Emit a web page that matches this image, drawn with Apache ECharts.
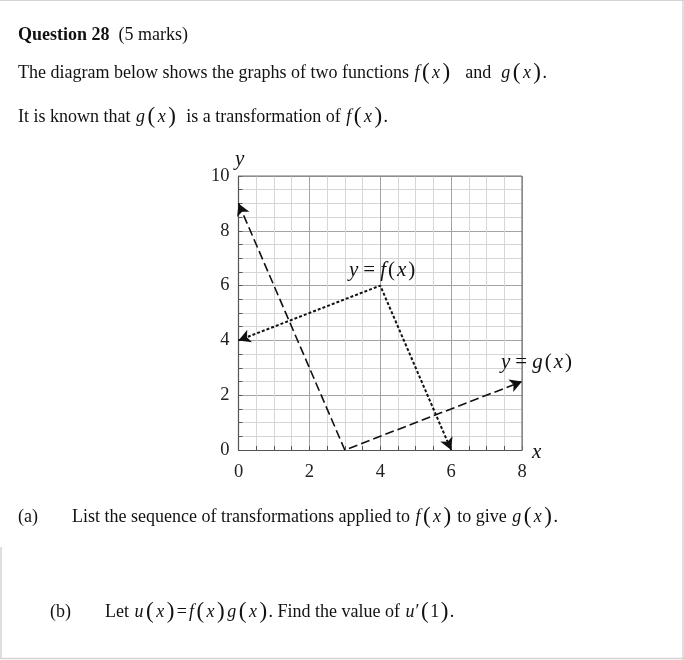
<!DOCTYPE html>
<html>
<head>
<meta charset="utf-8">
<script src="https://cdn.jsdelivr.net/npm/echarts@6/dist/echarts.min.js"></script>
<style>html,body{margin:0;padding:0;background:#fff;}#c{width:684px;height:660px;}</style>
</head>
<body>
<div id="c"></div>
<script>
// ---- data ----
const xTickLabels = [0, 2, 4, 6, 8];
const yTickLabels = [0, 2, 4, 6, 8, 10];
const fX = [0, 4, 6];
const fY = [4, 6, 0];
const gX = [0, 3, 8];
const gY = [9, 0, 2.5];

const FONT = '"Liberation Serif", "Times New Roman", serif';
const chart = echarts.init(document.getElementById('c'), null, {renderer: 'canvas'});

function pts(xs, ys) { return xs.map((x, i) => [x, ys[i]]); }
function arrowSegs(p) {
  const n = p.length;
  const a = p[0], b = p[1], c = p[n - 1], d = p[n - 2];
  const t = 0.02;
  return [
    [{coord: a}, {coord: [a[0] + (b[0] - a[0]) * t, a[1] + (b[1] - a[1]) * t]}],
    [{coord: c}, {coord: [c[0] + (d[0] - c[0]) * t, c[1] + (d[1] - c[1]) * t]}]
  ];
}
const fPts = pts(fX, fY), gPts = pts(gX, gY);

const FS = 18;
const richBase = {
  n: {fontFamily: FONT, fontSize: FS, color: '#111'},
  b: {fontFamily: FONT, fontSize: 18, fontWeight: 'bold', color: '#111'},
  i: {fontFamily: FONT, fontSize: 18, fontStyle: 'italic', color: '#111', padding: [0, 1, 0, 1]},
  t: {fontFamily: FONT, fontSize: 18, color: '#111', padding: [0, 1, 0, 1]},
  p: {fontFamily: FONT, fontSize: 23, color: '#111', padding: [0, 1.5, 0, 1.5]},
  I: {fontFamily: FONT, fontSize: 21, fontStyle: 'italic', color: '#111', padding: [0, 1, 0, 1]},
  E: {fontFamily: FONT, fontSize: 21, color: '#111', padding: [0, 4, 0, 4]},
  P: {fontFamily: FONT, fontSize: 21, color: '#111', padding: [0, 1, 0, 1]}
};
function txt(x, y, s, extra) {
  return Object.assign({type: 'text', x: x, y: y,
    style: {text: s, rich: richBase, fill: '#111', font: FS + 'px ' + FONT, verticalAlign: 'middle', align: 'left'}}, extra || {});
}
const fx = '{i|f}{p|(}{i|x}{p|)}';
const gx = '{i|g}{p|(}{i|x}{p|)}';

const option = {
  animation: false,
  backgroundColor: '#fff',
  grid: {left: 238.5, right: 162, top: 176, bottom: 210, show: false},
  xAxis: [
    {type: 'value', min: 0, max: 8, interval: 0.5,
     axisLine: {show: true, onZero: false, lineStyle: {color: '#555', width: 1.2}},
     axisTick: {show: true, inside: true, length: 4, lineStyle: {color: '#555'}},
     axisLabel: {show: false},
     splitLine: {show: true, lineStyle: {color: '#d6d6d6', width: 1}}},
    {type: 'value', min: 0, max: 8, interval: 2, position: 'bottom',
     axisLine: {show: false}, axisTick: {show: false},
     axisLabel: {show: true, margin: 13, fontFamily: FONT, fontSize: 18.5, color: '#222',
       formatter: v => xTickLabels.includes(v) ? String(v) : ''},
     splitLine: {show: true, lineStyle: {color: '#a3a3a3', width: 1}}}
  ],
  yAxis: [
    {type: 'value', min: 0, max: 10, interval: 0.5,
     axisLine: {show: true, onZero: false, lineStyle: {color: '#555', width: 1.2}},
     axisTick: {show: true, inside: true, length: 4, lineStyle: {color: '#555'}},
     axisLabel: {show: false},
     splitLine: {show: true, lineStyle: {color: '#d6d6d6', width: 1}}},
    {type: 'value', min: 0, max: 10, interval: 2, position: 'left',
     axisLine: {show: false}, axisTick: {show: false},
     axisLabel: {show: true, margin: 9, fontFamily: FONT, fontSize: 18.5, color: '#222',
       formatter: v => yTickLabels.includes(v) ? String(v) : ''},
     splitLine: {show: true, lineStyle: {color: '#a3a3a3', width: 1}}}
  ],
  series: [
    {type: 'line', name: 'f', data: fPts, xAxisIndex: 0, yAxisIndex: 0, showSymbol: false, symbol: 'none',
     lineStyle: {color: '#111', width: 2, type: [3, 2]}, z: 5,
     markLine: {silent: true, symbol: ['arrow', 'none'], symbolSize: [10, 12], label: {show: false},
       lineStyle: {color: '#111', width: 1, type: 'solid'}, data: arrowSegs(fPts)}},
    {type: 'line', name: 'g', data: gPts, xAxisIndex: 0, yAxisIndex: 0, showSymbol: false, symbol: 'none',
     lineStyle: {color: '#111', width: 1.6, type: [9, 4]}, z: 5,
     markLine: {silent: true, symbol: ['arrow', 'none'], symbolSize: [10, 12], label: {show: false},
       lineStyle: {color: '#111', width: 1, type: 'solid'}, data: arrowSegs(gPts)}}
  ],
  graphic: [
    // page frame
    {type: 'line', shape: {x1: 0, y1: 0.5, x2: 684, y2: 0.5}, style: {stroke: '#d4d4d4', lineWidth: 1}},
    {type: 'line', shape: {x1: 683, y1: 0, x2: 683, y2: 660}, style: {stroke: '#d4d4d4', lineWidth: 1.5}},
    {type: 'line', shape: {x1: 0, y1: 658.5, x2: 684, y2: 658.5}, style: {stroke: '#d4d4d4', lineWidth: 1.5}},
    {type: 'line', shape: {x1: 1, y1: 547, x2: 1, y2: 658}, style: {stroke: '#d4d4d4', lineWidth: 1.5}},
    // plot top & right border
    {type: 'line', shape: {x1: 238.5, y1: 176, x2: 522, y2: 176}, style: {stroke: '#777', lineWidth: 1.2}, z: 10},
    {type: 'line', shape: {x1: 522, y1: 176, x2: 522, y2: 450}, style: {stroke: '#777', lineWidth: 1.2}, z: 10},
    // text
    txt(18, 35, '{b|Question 28}{n|  (5 marks)}'),
    txt(18, 73, '{n|The diagram below shows the graphs of two functions }' + fx + '{n|   and  }' + gx + '{n|.}'),
    txt(18, 117, '{n|It is known that }' + gx + '{n|  is a transformation of }' + fx + '{n|.}'),
    txt(18, 517, '{n|(a)}'),
    txt(72, 517, '{n|List the sequence of transformations applied to }' + fx + '{n| to give }' + gx + '{n|.}'),
    txt(50, 612, '{n|(b)}'),
    txt(105, 612, '{n|Let }{i|u}{p|(}{i|x}{p|)}{t|=}' + fx + gx + '{n|. Find the value of }{i|u}{n|′}{p|(}{n|1}{p|)}{n|.}'),
    // chart labels
    txt(348, 270, '{I|y}{E|=}{I|f}{P|(}{I|x}{P|)}', {z: 20}),
    txt(500, 362, '{I|y}{E|=}{I|g}{P|(}{I|x}{P|)}', {z: 20}),
    txt(234, 159, '{I|y}', {z: 20}),
    txt(531, 452, '{I|x}', {z: 20}),
  ]
};
chart.setOption(option);
</script>
</body>
</html>
